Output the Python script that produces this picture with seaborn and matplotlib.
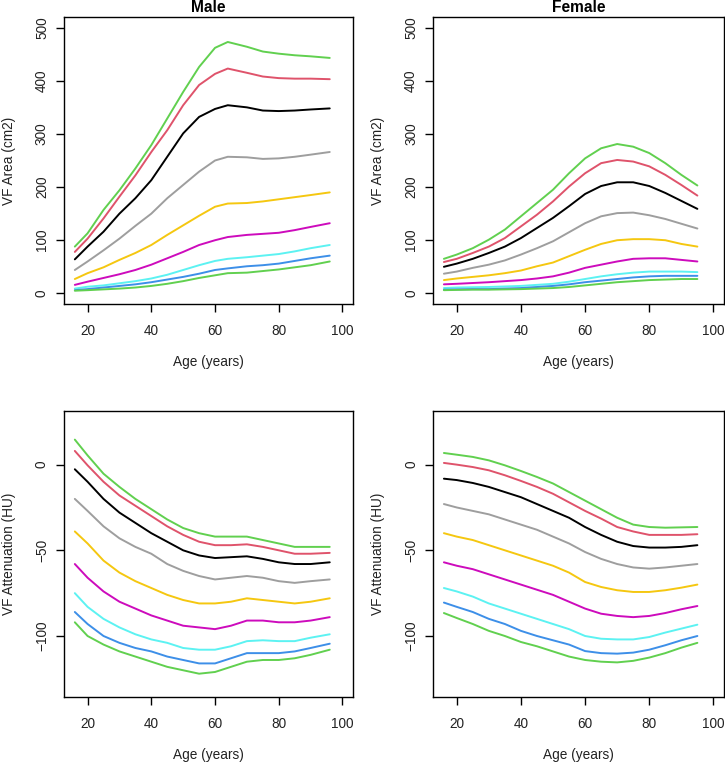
import matplotlib
matplotlib.use("Agg")
import matplotlib.pyplot as plt
import seaborn as sns
import pandas as pd

sns.set_style("white")
plt.rcParams['font.family'] = ['Liberation Sans', 'DejaVu Sans']

# ---------------- data ----------------
percentile_names = ["P97", "P90", "P75", "P50", "P25", "P10", "P5", "P3", "P1"]
line_colors = ["#61D04F", "#DF536B", "#000000", "#9E9E9E", "#F5C710",
               "#CD0BBC", "#5CF2F2", "#3D8FE8", "#61D04F"]

male_age = [16, 20, 25, 30, 35, 40, 45, 50, 55, 60, 64, 70, 75, 80, 85, 90, 96]
male_area = [
    [88, 113, 157, 194, 235, 279, 329, 379, 426, 462, 473, 464, 455, 451, 448, 446, 443],
    [78, 103, 141, 182, 222, 266, 307, 354, 392, 413, 423, 415, 408, 405, 404, 404, 403],
    [64, 88, 116, 150, 179, 213, 257, 301, 332, 347, 354, 350, 344, 343, 344, 346, 348],
    [44, 60, 81, 103, 127, 150, 179, 204, 229, 250, 257, 256, 253, 254, 257, 261, 266],
    [27, 38, 49, 63, 76, 91, 110, 128, 146, 163, 169, 170, 173, 177, 181, 185, 190],
    [16, 22, 29, 36, 44, 54, 66, 78, 91, 100, 106, 110, 112, 114, 119, 125, 132],
    [9, 12.5, 15, 19, 23, 28, 35, 44, 53, 61, 65, 68, 71, 74, 79, 85, 91],
    [6, 8, 11, 14, 17, 21, 26, 31, 37, 44, 47, 51, 53, 56, 61, 66, 71],
    [5, 6, 7.5, 9, 11, 14, 18, 23, 29, 34, 38, 39, 42, 45, 49, 53, 60],
]

male_age_hu = [16, 20, 25, 30, 35, 40, 45, 50, 55, 60, 65, 70, 75, 80, 85, 90, 96]
male_hu = [
    [14.6, 5.4, -5.3, -13, -20, -26, -32, -37, -40, -42, -42, -42, -44, -46, -48, -48, -48],
    [8, -0.4, -10, -18, -24, -30, -36, -41, -45, -47, -47, -46.5, -48, -50, -52, -52, -51.5],
    [-2.7, -10, -20, -28, -34, -40, -45, -50, -53, -54.5, -54, -53.5, -55, -57, -58, -58, -57],
    [-20, -27, -36, -43, -48, -52, -58, -62, -65, -67, -66, -65, -66, -68, -69, -68, -67],
    [-39, -46, -56, -63, -68, -72, -76, -79, -81, -81, -80, -78, -79, -80, -81, -80, -78],
    [-58, -66, -74, -80, -84, -88, -91, -94, -95, -96, -94, -91, -91, -92, -92, -91, -89],
    [-75, -83, -90, -95, -99, -102, -104, -107, -108, -108, -106, -103, -102.5, -103, -103, -101, -99],
    [-86, -93, -100, -104, -107, -109, -112, -114, -116, -116, -113, -110, -110, -110, -109, -107, -104.5],
    [-92, -100, -105, -109, -112, -115, -118, -120, -122, -121, -118, -115, -114, -114, -113, -111, -108],
]

female_age = [16, 20, 25, 30, 35, 40, 45, 50, 55, 60, 65, 70, 75, 80, 85, 90, 95]
female_area = [
    [65, 73, 85, 101, 120, 145, 170, 195, 226, 254, 273, 281, 276, 264, 245, 223, 203],
    [59, 65, 76, 88, 104, 126, 148, 173, 201, 226, 245, 251, 248, 239, 223, 204, 184],
    [50, 56, 65, 76, 88, 104, 123, 142, 164, 187, 202, 209, 209, 202, 189, 174, 159],
    [37, 41, 48, 54, 62, 73, 85, 98, 115, 132, 145, 151, 152, 147, 140, 131, 122],
    [25, 28, 31, 34, 38, 43, 51, 58, 70, 82, 93, 100, 102, 102, 100, 93, 88],
    [17, 18, 19.5, 21, 23, 25, 28, 32, 39, 48, 54, 60, 65, 66, 66, 63, 60],
    [10, 11, 11.5, 12, 13, 14, 16, 18, 22, 27, 32, 36, 39, 41, 41, 41, 40],
    [7, 7.5, 8, 8, 9, 10, 12, 14, 17, 21, 24, 27, 30, 32, 33, 33, 33],
    [6, 6.5, 7, 7, 7.5, 8, 9, 10, 12, 15, 18, 21, 23, 25, 26, 27, 27],
]

female_hu = [
    [6.8, 5.8, 4.5, 2.5, -0.4, -3.7, -7.2, -11, -16, -21, -26, -31, -35, -36.4, -36.8, -36.6, -36.4],
    [1, 0, -1.4, -3.3, -6.2, -9.5, -13, -17, -22, -27, -31.5, -36.4, -39, -41, -41, -41, -40.6],
    [-8.2, -9, -10.7, -13, -16, -19, -23, -27, -31, -36.4, -41, -45, -47.5, -48.4, -48.4, -48, -47],
    [-23, -25, -27, -29, -32, -35, -38, -42, -46, -51, -55, -58, -60, -60.7, -60, -59, -58],
    [-40, -42, -44, -47, -50, -53, -56, -59, -63, -68.5, -71.4, -73.3, -74.3, -74.3, -73.3, -71.8, -70],
    [-57, -59, -61, -64, -67, -70, -73, -76, -80, -84, -87, -88.3, -89, -88.3, -86.6, -84.4, -82.5],
    [-72, -74, -77, -81, -84, -87, -90, -93, -96, -100, -101.6, -102, -102, -100.6, -98, -95.7, -93.4],
    [-80.5, -83, -86, -90, -93, -97, -100, -102.5, -105, -108.8, -110, -110.3, -109.7, -108, -105.4, -102.5, -100],
    [-86.6, -89.5, -93, -97, -100, -103.5, -106, -109, -112, -114, -115, -115.4, -114.5, -112.6, -110, -106.8, -104],
]

x_ticks = [20, 40, 60, 80, 100]
area_ticks = [0, 100, 200, 300, 400, 500]
hu_ticks = [0, -50, -100]

# ---------------- figure ----------------
W, H = 725, 764
fig = plt.figure(figsize=(W / 100, H / 100), dpi=100)


def add_ax(left, top, right, bottom):
    return fig.add_axes([left / W, 1 - bottom / H, (right - left) / W, (bottom - top) / H])


ax_ma = add_ax(64, 17, 353, 304)
ax_fa = add_ax(433, 17, 724, 304)
ax_mh = add_ax(64, 411, 353, 697)
ax_fh = add_ax(433, 411, 724, 697)

TXT = "#222222"


def draw(ax, ages, series, ylim, yticks, ylabel, title=None):
    for vals, name, col in zip(series, percentile_names, line_colors):
        df = pd.DataFrame({"age": ages, "value": vals})
        sns.lineplot(data=df, x="age", y="value", color=col, lw=1.4, ax=ax,
                     estimator=None, sort=False)
    ax.set_xlim(12.6, 103.3)
    ax.set_ylim(*ylim)
    ax.set_xticks(x_ticks)
    ax.set_xticklabels([str(t) for t in x_ticks])
    ax.set_yticks(yticks)
    ax.set_yticklabels([str(t).replace("-", "\u2212") for t in yticks])
    for s in ax.spines.values():
        s.set_visible(True)
        s.set_color("black")
        s.set_linewidth(1.0)
    ax.tick_params(axis="both", direction="out", length=5.8, width=1.0,
                   color="black", labelsize=9.8, labelcolor=TXT)
    ax.tick_params(axis="x", pad=8.5, bottom=True)
    ax.tick_params(axis="y", pad=5, left=True, labelrotation=90)
    for lab in ax.get_yticklabels():
        lab.set_va("center")
    bb = ax.get_position()
    wpx = bb.width * W
    hpx = bb.height * H
    ax.set_xlabel("Age (years)", fontsize=9.8, color=TXT)
    ax.xaxis.set_label_coords(0.5, -58 / hpx)
    ax.xaxis.label.set_va("center")
    ax.set_ylabel(ylabel, fontsize=9.8, color=TXT)
    ax.yaxis.set_label_coords(-55 / wpx, 0.5)
    ax.yaxis.label.set_va("center")
    if title:
        ax.text(0.5, 1 + 9.5 / hpx, title, transform=ax.transAxes,
                ha="center", va="center", fontsize=11.2, fontweight="bold",
                color="black")


draw(ax_ma, male_age, male_area, (-20, 520), area_ticks, "VF Area (cm2)", "Male")
draw(ax_fa, female_age, female_area, (-20, 520), area_ticks, "VF Area (cm2)", "Female")
draw(ax_mh, male_age_hu, male_hu, (-135.6, 31.3), hu_ticks, "VF Attenuation (HU)")
draw(ax_fh, female_age, female_hu, (-135.6, 31.3), hu_ticks, "VF Attenuation (HU)")

fig.savefig("out.png", dpi=100, facecolor="white")
